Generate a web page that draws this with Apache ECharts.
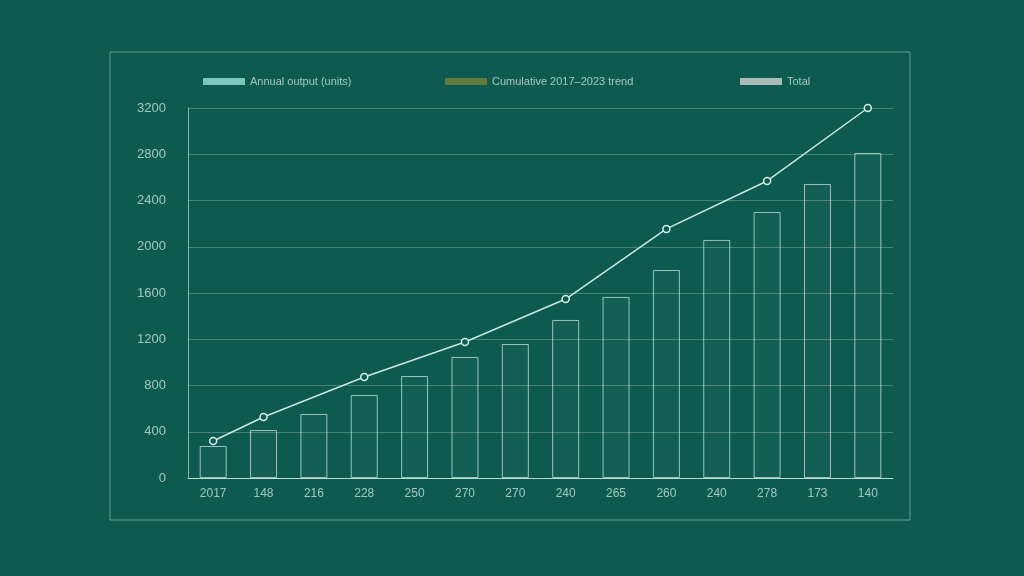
<!DOCTYPE html>
<html>
<head>
<meta charset="utf-8">
<script src="https://cdn.jsdelivr.net/npm/echarts@6/dist/echarts.min.js"></script>
<style>
  html, body { margin: 0; padding: 0; background: #0c5a50; }
  #chart { width: 1024px; height: 576px; }
</style>
</head>
<body>
<div id="chart"></div>
<script>
// values (labels in the reference are illegible)
var categories = ['2017', '148', '216', '228', '250', '270', '270', '240', '265', '260', '240', '278', '173', '140'];
var barValues = [277, 415, 554, 718, 882, 1047, 1159, 1367, 1566, 1799, 2059, 2301, 2543, 2811];
var lineValues = [320, 528, null, 874, null, 1176, null, 1548, null, 2154, null, 2569, null, 3200];
var legendNames = ['Annual output (units)', 'Cumulative 2017–2023 trend', 'Total'];
var legendColors = ['#7cc7bd', '#5f7a3c', '#a9bcb8'];
var legendLefts = [198, 440, 735];

var chart = echarts.init(document.getElementById('chart'));
var textColor = 'rgba(210,235,228,0.75)';
chart.setOption({
  backgroundColor: '#0c5a50',
  graphic: [{
    type: 'rect', shape: { x: 110, y: 52, width: 800, height: 468 },
    style: { fill: 'none', stroke: 'rgba(200,230,220,0.45)', lineWidth: 1 }
  }],
  legend: legendNames.map(function (n, i) {
    return {
      top: 71, left: legendLefts[i], itemWidth: 42, itemHeight: 7, selectedMode: false,
      textStyle: { color: textColor, fontSize: 11 },
      data: [{ name: n, icon: 'rect', itemStyle: { color: legendColors[i], borderWidth: 0 } }]
    };
  }),
  grid: { left: 188, right: 131, top: 108, bottom: 98 },
  xAxis: {
    type: 'category', data: categories,
    axisLine: { lineStyle: { color: 'rgba(215,240,232,0.8)' } },
    axisTick: { show: false },
    axisLabel: { color: textColor, fontSize: 12, margin: 10 }
  },
  yAxis: {
    type: 'value', min: 0, max: 3200, interval: 400,
    axisLine: { show: true, lineStyle: { color: 'rgba(215,240,232,0.6)' } },
    axisLabel: { color: textColor, fontSize: 13, margin: 22, formatter: function (v) { return String(v); } },
    splitLine: { lineStyle: { color: 'rgba(200,230,220,0.3)' } }
  },
  series: [
    {
      name: legendNames[0], type: 'bar', data: barValues, barWidth: 27,
      itemStyle: { color: 'rgba(255,255,255,0.03)', borderColor: 'rgba(215,240,232,0.7)', borderWidth: 1 }
    },
    {
      name: legendNames[1], type: 'line', data: lineValues, connectNulls: true,
      symbol: 'circle', symbolSize: 7,
      lineStyle: { color: 'rgba(225,245,238,0.9)', width: 1.5 },
      itemStyle: { color: '#0c5a50', borderColor: 'rgba(225,245,238,0.95)', borderWidth: 1.5 }
    },
    { name: legendNames[2], type: 'line', data: [] }
  ]
});
</script>
</body>
</html>
